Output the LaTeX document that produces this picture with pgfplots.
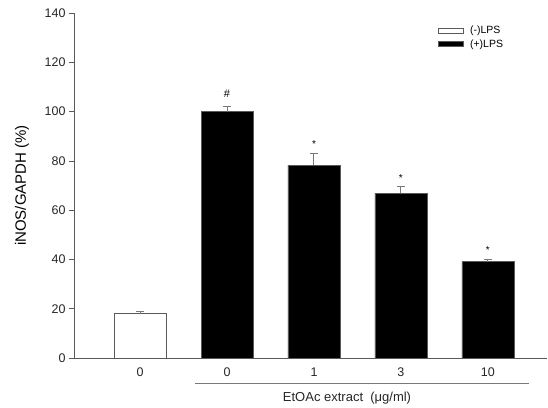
\documentclass[border=0pt]{standalone}
\usepackage{pgfplots}
\pgfplotsset{compat=1.18}
\usepackage{fontspec}
\setmainfont{Liberation Sans}
\begin{document}
\begin{tikzpicture}
\definecolor{axgray}{RGB}{90,90,90}
\definecolor{ebgray}{RGB}{120,120,120}
\begin{axis}[
  name=ax,
  at={(0,0)}, anchor=south west,
  scale only axis,
  width=473bp, height=345bp,
  xmin=-0.76, xmax=4.68,
  ymin=0, ymax=140,
  ytick={0,20,...,140},
  xtick={0,1,2,3,4},
  xticklabels={0,0,1,3,10},
  axis x line*=bottom,
  axis y line*=left,
  axis line style={axgray, line width=0.8pt},
  x axis line style={-},
  y axis line style={-},
  xtick style={draw=none},
  ytick style={axgray, line width=0.6pt},
  tick align=outside,
  major tick length=5bp,
  ticklabel style={font=\fontsize{12.5bp}{14bp}\selectfont, text=black!85},
  /pgf/number format/assume math mode=true,
  ylabel={iNOS/GAPDH (\%)},
  ylabel style={font=\fontsize{15bp}{17bp}\selectfont, at={(axis description cs:-0.1099,0.5)}, anchor=center},
  xticklabel style={yshift=-1bp},
  bar width=52bp,
  legend style={draw=none, fill=none, at={(0.768,0.972)}, anchor=north west,
    font=\fontsize{10.5bp}{12bp}\selectfont, row sep=0.5bp, column sep=4bp, inner sep=1bp,
    legend cell align=left},
  legend image code/.code={\draw[#1] (0bp,-2.5bp) rectangle (25bp,2.5bp);},
]
\addplot[ybar, fill=white, draw=axgray, line width=0.6pt,
  error bars/.cd, y dir=plus, y explicit, error bar style={ebgray, line width=1pt}, error mark options={rotate=90, mark size=4bp, ebgray, line width=1pt}]
  coordinates {(0,18.0) +- (0,1.0)};
\addlegendentry{(-)LPS}
\addplot[ybar, fill=black, draw=axgray, line width=0.6pt,
  error bars/.cd, y dir=plus, y explicit, error bar style={ebgray, line width=1pt}, error mark options={rotate=90, mark size=4bp, ebgray, line width=1pt}]
  coordinates {(1,100.0) +- (0,2.0) (2,78.3) +- (0,4.7) (3,66.8) +- (0,2.8) (4,39.1) +- (0,0.9)};
\addlegendentry{(+)LPS}
\node[font=\fontsize{11bp}{12bp}\selectfont] at (axis cs:1,107.2) {\#};
\node[font=\fontsize{10bp}{11bp}\selectfont] at (axis cs:2,87.0) {*};
\node[font=\fontsize{10bp}{11bp}\selectfont] at (axis cs:3,73.1) {*};
\node[font=\fontsize{10bp}{11bp}\selectfont] at (axis cs:4,43.8) {*};
\end{axis}
\draw[ebgray, line width=0.8pt] ([xshift=121bp,yshift=-25bp]ax.south west) -- ([xshift=455bp,yshift=-25bp]ax.south west);
\node[font=\fontsize{13bp}{15bp}\selectfont, text=black!85] at ([xshift=273bp,yshift=-40bp]ax.south west) {EtOAc extract\ \ (μg/ml)};
\pgfresetboundingbox
\path ([xshift=-74bp,yshift=-50bp]ax.south west) rectangle ++(548bp,408bp);
\end{tikzpicture}
\end{document}
